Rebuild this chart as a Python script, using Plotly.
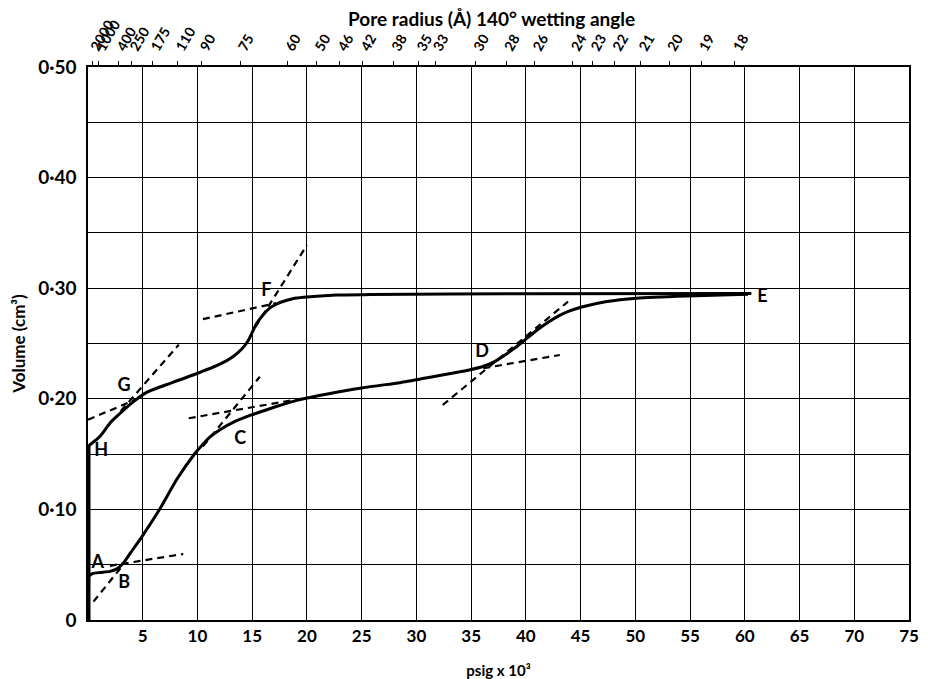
import plotly.graph_objects as go

# ---------------- data ----------------
# lower (intrusion) curve A-B-C-D-E
low_x = [0, 0.4, 1.2, 2.0, 2.6, 3.2, 3.9, 4.9, 6.6, 8.1, 9.8, 10.5, 11.2, 12.2, 13.3, 14.8, 16.0,
         17.2, 18.5, 19.7, 22.7, 25.8, 28.5, 31.5, 33.5, 35.0, 36.0, 37.0, 38.0, 39.0, 40.0, 41.0,
         42.0, 43.0, 44.0, 45.1, 47.4, 50.1, 54.7, 60.3]
low_y = [0.039, 0.042, 0.043, 0.044, 0.046, 0.051, 0.061, 0.075, 0.101, 0.127, 0.151, 0.159, 0.166,
         0.173, 0.179, 0.185, 0.189, 0.193, 0.197, 0.200, 0.206, 0.211, 0.2146, 0.220, 0.2235, 0.2265,
         0.229, 0.233, 0.239, 0.246, 0.254, 0.262, 0.269, 0.275, 0.2795, 0.283, 0.288, 0.291, 0.293, 0.2945]

# upper (extrusion) curve E-F-G-H
up_x = [60.6, 40.0, 25.8, 22.7, 19.7, 18.7, 17.8, 17.2, 16.6, 16.0, 15.4, 15.0, 14.6, 14.0, 13.3,
        12.1, 9.6, 7.5, 5.4, 4.1, 2.95, 2.0, 1.1, 0]
up_y = [0.2952, 0.2950, 0.2942, 0.2939, 0.2918, 0.2905, 0.288, 0.2855, 0.282, 0.276, 0.268, 0.260,
        0.252, 0.2445, 0.2385, 0.2315, 0.2215, 0.214, 0.206, 0.197, 0.187, 0.178, 0.166, 0.157]

# vertical segment at zero pressure shared by both branches
zero_x = [0, 0]
zero_y = [0, 0.157]

# dashed tangent lines (start, end)
tangents = {
    "A": ([2.0, 8.7], [0.049, 0.0597]),
    "B": ([0.5, 3.2], [0.0166, 0.0497]),
    "G1": ([0.0, 4.5], [0.181, 0.200]),
    "G2": ([3.0, 8.3], [0.189, 0.249]),
    "C1": ([10.5, 15.7], [0.157, 0.220]),
    "C2": ([9.2, 19.7], [0.1824, 0.2005]),
    "F1": ([15.3, 20.0], [0.265, 0.339]),
    "F2": ([10.5, 17.2], [0.272, 0.2865]),
    "D1": ([32.4, 43.85], [0.1944, 0.2878]),
    "D2": ([36.1, 43.1], [0.2276, 0.2396]),
}

point_names = ["A", "B", "H", "G", "C", "F", "D", "E"]
point_x = [0.9, 3.3, 1.2, 3.3, 13.9, 16.3, 36.0, 61.6]
point_y = [0.051, 0.033, 0.152, 0.211, 0.163, 0.297, 0.242, 0.292]

x_ticks = list(range(0, 80, 5))
x_ticktext = [""] + [str(v) for v in x_ticks[1:]]
y_ticks = [round(0.05 * i, 2) for i in range(11)]
y_ticktext = ["0", "", "0·10", "", "0·20", "", "0·30", "", "0·40", "", "0·50"]

radius_labels = ["2000", "1000", "400", "250", "175", "110", "90", "75", "60", "50", "46", "42", "38",
                 "35", "33", "30", "28", "26", "24", "23", "22", "21", "20", "19", "18"]
radius_pos = [0.4, 0.95, 2.8, 4.0, 5.9, 8.2, 10.4, 13.9, 18.2, 20.9, 23.0, 25.1, 27.9, 30.2, 31.7,
              35.4, 38.2, 40.8, 44.3, 46.1, 48.1, 50.5, 53.1, 56.0, 59.1]

FONT = "Lato"

fig = go.Figure()

curve_line = dict(color="black", width=3, shape="spline", smoothing=0.5)
fig.add_trace(go.Scatter(x=low_x, y=low_y, mode="lines", line=curve_line, showlegend=False, hoverinfo="skip"))
fig.add_trace(go.Scatter(x=up_x, y=up_y, mode="lines", line=curve_line, showlegend=False, hoverinfo="skip"))
fig.add_trace(go.Scatter(x=zero_x, y=zero_y, mode="lines", line=dict(color="black", width=5),
                         showlegend=False, hoverinfo="skip"))
for name, (tx, ty) in tangents.items():
    fig.add_trace(go.Scatter(x=tx, y=ty, mode="lines", line=dict(color="black", width=2.2, dash="7px,5px"),
                             showlegend=False, hoverinfo="skip"))

fig.add_trace(go.Scatter(x=point_x, y=point_y, mode="text", text=point_names,
                         textfont=dict(family=FONT, size=18, color="black", weight="bold"),
                         showlegend=False, hoverinfo="skip"))

# invisible trace for top axis
fig.add_trace(go.Scatter(x=[0, 75], y=[0, 0], xaxis="x2", mode="lines", line=dict(width=0),
                         showlegend=False, hoverinfo="skip"))

fig.update_layout(
    width=920, height=671,
    margin=dict(l=80, r=19, t=59, b=59),
    paper_bgcolor="white", plot_bgcolor="white",
    font=dict(family=FONT, color="black"),
    xaxis=dict(range=[0, 75], tickvals=x_ticks, ticktext=x_ticktext, showgrid=True, gridcolor="black",
               gridwidth=1, showline=True, linecolor="black", linewidth=1.5, mirror=False, zeroline=False,
               automargin=False,
               ticks="", tickfont=dict(size=17, family=FONT, weight="bold"),
               title=dict(text="psig x 10³", font=dict(size=15, family=FONT, weight="bold"), standoff=20)),
    xaxis2=dict(range=[0, 75], overlaying="x", side="top", anchor="y", tickvals=radius_pos,
                ticktext=radius_labels, tickangle=-60, ticks="outside", ticklen=4, tickcolor="black",
                automargin=False,
                showgrid=False, showline=True, linecolor="black", linewidth=1.5, zeroline=False,
                tickfont=dict(size=14, family=FONT, weight="bold")),
    yaxis=dict(range=[0, 0.5], tickvals=y_ticks, ticktext=y_ticktext, showgrid=True, gridcolor="black",
               gridwidth=1, showline=True, linecolor="black", linewidth=1.5, mirror=True, zeroline=False,
               automargin=False,
               ticks="", ticklabelstandoff=6, tickfont=dict(size=19, family=FONT, weight="bold"),
               title=dict(text="Volume (cm³)", font=dict(size=17, family=FONT, weight="bold"), standoff=10)),
    annotations=[dict(text="Pore radius (Å) 140° wetting angle", xref="paper", yref="paper",
                      x=0.492, y=1, yshift=49, xanchor="center", yanchor="middle", showarrow=False,
                      font=dict(size=19, family=FONT, color="black", weight="bold"))],
)

fig.write_html("out.html")
